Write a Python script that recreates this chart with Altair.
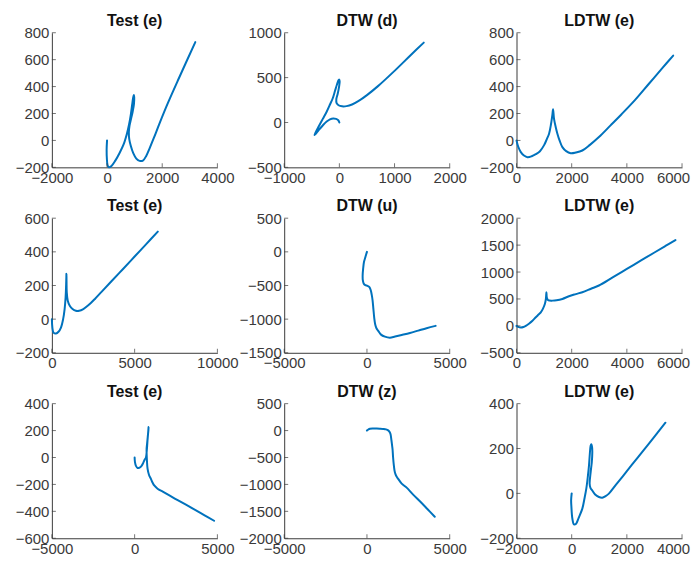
import altair as alt
import pandas as pd

BLUE = "#0072BD"
AX = "#3a3a3a"
FONT = "Liberation Sans"

titles = ["Test (e)", "DTW (d)", "LDTW (e)",
          "Test (e)", "DTW (u)", "LDTW (e)",
          "Test (e)", "DTW (z)", "LDTW (e)"]

# ---- panel 1 : Test (e)
p1_x = [0, -15, -5, 20, 70, 160, 300, 450, 600, 720, 800, 860, 910, 945, 970, 985, 975, 930, 870, 815, 790, 805, 860, 950, 1060, 1180, 1300, 1420, 1550, 1700, 1900, 2200, 2600, 3200]
p1_y = [0, -70, -140, -185, -200, -190, -150, -95, -30, 50, 120, 190, 265, 315, 338, 320, 270, 215, 160, 110, 60, 10, -40, -95, -135, -152, -150, -115, -55, 20, 125, 275, 460, 730]
p1_xt = [-2000, 0, 2000, 4000]
p1_yt = [-200, 0, 200, 400, 600, 800]

# ---- panel 2 : DTW (d)
p2_x = [0, -20, -60, -110, -170, -230, -290, -360, -420, -450, -430, -370, -300, -230, -170, -120, -80, -45, -20, -5, 5, -5, -30, -55, -50, -15, 50, 130, 230, 350, 500, 700, 1000, 1300, 1530]
p2_y = [0, 25, 40, 45, 35, 10, -25, -75, -120, -140, -110, -40, 40, 120, 200, 270, 350, 420, 465, 480, 460, 400, 320, 260, 215, 192, 180, 182, 200, 240, 305, 405, 575, 755, 890]
p2_xt = [-1000, 0, 1000, 2000]
p2_yt = [-500, 0, 500, 1000]

# ---- panel 3 : LDTW (e)
p3_x = [0, 60, 150, 270, 400, 550, 700, 850, 1000, 1100, 1180, 1250, 1300, 1325, 1360, 1420, 1482, 1560, 1663, 1800, 1964, 2150, 2386, 2650, 2988, 3400, 3800, 4300, 4800, 5300, 5680]
p3_y = [0, -45, -85, -112, -125, -118, -102, -80, -35, 10, 50, 120, 190, 232, 160, 100, 50, 0, -50, -80, -95, -90, -75, -35, 25, 110, 193, 301, 421, 541, 630]
p3_xt = [0, 2000, 4000, 6000]
p3_yt = [-200, 0, 200, 400, 600, 800]

# ---- panel 4 : Test (e)
p4_x = [0, 30, 100, 250, 400, 550, 680, 770, 830, 860, 875, 880, 885, 900, 960, 1080, 1250, 1450, 1650, 1900, 2200, 2600, 3000, 3600, 4300, 5000, 5700, 6400]
p4_y = [0, -50, -80, -85, -75, -50, 0, 60, 130, 200, 250, 270, 230, 160, 110, 80, 60, 50, 50, 60, 82, 120, 162, 225, 298, 372, 446, 520]
p4_xt = [0, 5000, 10000]
p4_yt = [-200, 0, 200, 400, 600]

# ---- panel 5 : DTW (u)
p5_x = [0, -50, -120, -180, -230, -260, -250, -200, -100, 30, 150, 230, 290, 340, 390, 440, 500, 580, 683, 850, 1084, 1386, 1700, 2100, 2600, 3100, 3600, 4150]
p5_y = [0, -40, -100, -150, -250, -350, -420, -470, -495, -505, -525, -570, -640, -720, -850, -980, -1080, -1140, -1175, -1230, -1260, -1275, -1258, -1235, -1205, -1170, -1135, -1100]
p5_xt = [-5000, 0, 5000]
p5_yt = [-1500, -1000, -500, 0, 500]

# ---- panel 6 : LDTW (e)
p6_x = [0, 60, 157, 250, 337, 450, 578, 700, 800, 880, 960, 1030, 1065, 1084, 1100, 1140, 1200, 1301, 1450, 1663, 1900, 2150, 2386, 2700, 2988, 3500, 4000, 4500, 5000, 5400, 5760]
p6_y = [0, -20, -31, -22, 0, 40, 94, 160, 210, 250, 320, 410, 500, 625, 520, 480, 470, 469, 475, 500, 550, 590, 625, 690, 750, 906, 1058, 1211, 1363, 1485, 1594]
p6_xt = [0, 2000, 4000, 6000]
p6_yt = [-500, 0, 500, 1000, 1500, 2000]

# ---- panel 7 : Test (e)
p7_x = [0, 20, 80, 181, 300, 420, 520, 610, 683, 740, 783, 820, 843, 830, 790, 750, 723, 740, 783, 870, 984, 1090, 1185, 1386, 1700, 2100, 2600, 3100, 3600, 4200, 4800]
p7_y = [0, -35, -62, -78, -75, -62, -40, -15, 0, 60, 135, 190, 226, 200, 150, 100, 62, -15, -85, -130, -159, -188, -208, -232, -254, -282, -317, -351, -386, -428, -470]
p7_xt = [-5000, 0, 5000]
p7_yt = [-600, -400, -200, 0, 200, 400]

# ---- panel 8 : DTW (z)
p8_x = [0, 80, 181, 350, 550, 783, 1000, 1150, 1285, 1380, 1426, 1480, 1520, 1546, 1580, 1627, 1687, 1780, 1888, 2100, 2400, 2791, 3200, 3650, 4096]
p8_y = [0, 20, 35, 40, 38, 35, 30, 22, 4, -30, -70, -180, -280, -345, -500, -652, -775, -850, -897, -985, -1060, -1190, -1314, -1457, -1600]
p8_xt = [-5000, 0, 5000]
p8_yt = [-2000, -1500, -1000, -500, 0, 500]

# ---- panel 9 : LDTW (e)
p9_x = [0, -20, -10, 24, 84, 160, 250, 386, 460, 530, 590, 627, 660, 687, 711, 740, 747, 730, 687, 651, 680, 747, 850, 988, 1108, 1230, 1349, 1600, 2000, 2400, 2800, 3100, 3398]
p9_y = [0, -30, -60, -112, -138, -135, -110, -68, -25, 21, 80, 124, 180, 212, 219, 205, 182, 140, 94, 43, 25, 13, -5, -16, -19, -12, -1, 38, 99, 161, 222, 269, 315]
p9_xt = [-2000, 0, 2000, 4000]
p9_yt = [-200, 0, 200, 400]

panels = [
    (p1_x, p1_y, p1_xt, p1_yt), (p2_x, p2_y, p2_xt, p2_yt), (p3_x, p3_y, p3_xt, p3_yt),
    (p4_x, p4_y, p4_xt, p4_yt), (p5_x, p5_y, p5_xt, p5_yt), (p6_x, p6_y, p6_xt, p6_yt),
    (p7_x, p7_y, p7_xt, p7_yt), (p8_x, p8_y, p8_xt, p8_yt), (p9_x, p9_y, p9_xt, p9_yt),
]

W, H = 166, 135


def make_panel(xs, ys, xt, yt, title, last_col):
    df = pd.DataFrame({"x": xs, "y": ys, "i": list(range(len(xs)))})
    xdom = [xt[0], xt[-1]]
    ydom = [yt[0], yt[-1]]
    xscale = alt.Scale(domain=xdom, nice=False, zero=False)
    yscale = alt.Scale(domain=ydom, nice=False, zero=False)
    common = dict(title=None, grid=False, ticks=False, format="d",
                  domainColor=AX, domainWidth=1, labelColor=AX, labelFont=FONT,
                  labelFontSize=15, labelFlush=False, labelOverlap=False,
                  labelBound=False, labelPadding=3)
    if last_col:
        xaxis = alt.Axis(values=xt,
                         labelOffset=alt.condition("datum.value == %d" % xt[-1],
                                                   alt.value(-9), alt.value(0)),
                         **common)
    else:
        xaxis = alt.Axis(values=xt, **common)
    yaxis = alt.Axis(values=yt, **common)
    line = alt.Chart(df).mark_line(
        color=BLUE, strokeWidth=2, interpolate="catmull-rom",
        strokeCap="round", strokeJoin="round"
    ).encode(
        x=alt.X("x:Q", scale=xscale, axis=xaxis),
        y=alt.Y("y:Q", scale=yscale, axis=yaxis),
        order="i:Q",
    )
    xtdf = pd.DataFrame({"x": xt})
    ytdf = pd.DataFrame({"y": yt})
    xticks = alt.Chart(xtdf).mark_tick(
        orient="vertical", size=4, thickness=1, color=AX, yOffset=-2
    ).encode(
        x=alt.X("x:Q", scale=xscale, axis=xaxis),
        y=alt.YDatum(ydom[0], type="quantitative", scale=yscale, axis=yaxis),
    )
    yticks = alt.Chart(ytdf).mark_tick(
        orient="horizontal", size=4, thickness=1, color=AX, xOffset=2
    ).encode(
        y=alt.Y("y:Q", scale=yscale, axis=yaxis),
        x=alt.XDatum(xdom[0], type="quantitative", scale=xscale, axis=xaxis),
    )
    return alt.layer(line, xticks, yticks).properties(
        width=W, height=H,
        title=alt.TitleParams(title, fontSize=16, fontWeight="bold", font=FONT,
                              color="#111111", offset=-16, baseline="alphabetic",
                              frame="group", anchor="middle"),
    )


charts = [make_panel(*p, t, (k % 3 == 2)) for k, (p, t) in enumerate(zip(panels, titles))]

chart = alt.concat(
    *charts, columns=3, spacing={"row": 51, "column": 67}, bounds="flush"
).properties(
    padding={"left": 6, "top": 3, "right": 0, "bottom": 0}
).configure(background="white").configure_view(stroke="transparent")

chart.save("out.html", embed_options={"renderer": "svg", "actions": False})
